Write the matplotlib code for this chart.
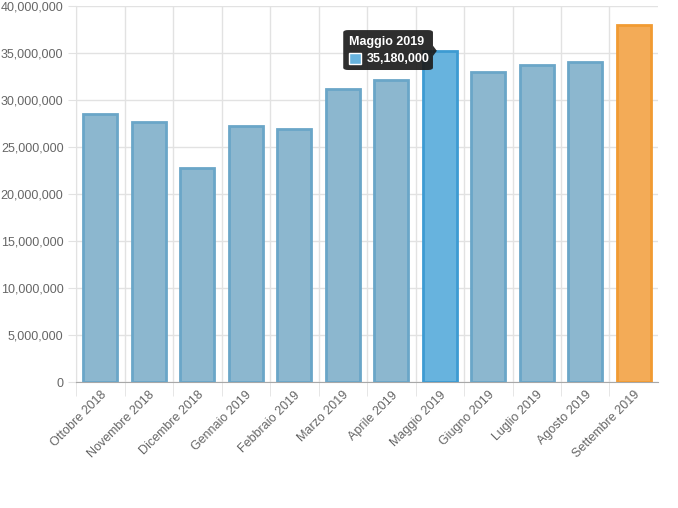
import matplotlib.pyplot as plt
import numpy as np
from matplotlib.patches import FancyBboxPatch, Rectangle, Polygon
from matplotlib.ticker import FuncFormatter

plt.rcParams['font.family'] = ['Liberation Sans', 'DejaVu Sans']

months = ["Ottobre 2018", "Novembre 2018", "Dicembre 2018", "Gennaio 2019",
          "Febbraio 2019", "Marzo 2019", "Aprile 2019", "Maggio 2019",
          "Giugno 2019", "Luglio 2019", "Agosto 2019", "Settembre 2019"]
values = [28500000, 27650000, 22750000, 27200000, 26900000, 31150000,
          32100000, 35180000, 32950000, 33750000, 34100000, 38000000]
hover = 7

fill = ['#8cb7cf'] * len(months)
edge = ['#6aa6c8'] * len(months)
fill[hover], edge[hover] = '#67b3de', '#3d9bd2'
fill[-1], edge[-1] = '#f3ab57', '#f19b32'

fig = plt.figure(figsize=(6.78, 5.08), dpi=100)
ax = fig.add_axes([0.1121, 0.248, 0.8584, 0.740])

x = np.arange(len(months))
ax.bar(x, values, width=0.7, color=fill, edgecolor=edge, linewidth=2, zorder=3)

ax.set_xlim(-0.5, len(months) - 0.5)
ax.set_ylim(0, 40000000)
ax.set_yticks(np.arange(0, 40000001, 5000000))
ax.yaxis.set_major_formatter(FuncFormatter(lambda v, p: f"{int(v):,}"))

# grid lines sit on category boundaries
ax.set_xticks(x - 0.5, minor=True)
ax.set_xticks(x)
ax.set_xticklabels(months, rotation=45, ha='right', rotation_mode='anchor')
ax.grid(True, which='minor', axis='x', color='#e2e2e2', lw=1, zorder=0)
ax.grid(True, which='major', axis='y', color='#e2e2e2', lw=1, zorder=0)
ax.tick_params(axis='x', which='major', length=0, pad=5, labelsize=9, labelcolor='#666666')
ax.tick_params(axis='x', which='minor', length=10, color='#e2e2e2')
ax.tick_params(axis='y', length=6, color='#e2e2e2', labelsize=9, labelcolor='#666666', pad=3)

for s in ['top', 'right']:
    ax.spines[s].set_visible(False)
ax.spines['left'].set_color('#e2e2e2')
ax.spines['bottom'].set_color('#a8a8a8')

# tooltip for the hovered bar
bx, by = hover - 1.99, 37450000
w, h = 1.85, 4250000
tip_x, tip_y = hover - 0.06, values[hover] + 60000
box = FancyBboxPatch((bx, by - h), w, h, boxstyle="round,pad=0,rounding_size=0.1",
                     transform=ax.transData, fc='#1c1c1c', ec='none', alpha=0.92,
                     zorder=6, mutation_aspect=2500000)
ax.add_patch(box)
tip = Polygon([(bx + w, tip_y + 550000), (tip_x, tip_y), (bx + w, tip_y - 550000)],
              closed=True, fc='#1c1c1c', ec='none', alpha=0.92, zorder=6)
ax.add_patch(tip)
ax.text(bx + 0.12, by - 1250000, months[hover], color='white', fontsize=9,
        fontweight='bold', va='center', ha='left', zorder=7)
ax.add_patch(Rectangle((bx + 0.12, by - 3650000), 0.24, 1250000, fc=fill[hover],
                       ec='white', lw=1, zorder=7))
ax.text(bx + 0.49, by - 3050000, f"{values[hover]:,}", color='white', fontsize=9,
        fontweight='bold', va='center', ha='left', zorder=7)

fig.savefig('out.png', dpi=100)
